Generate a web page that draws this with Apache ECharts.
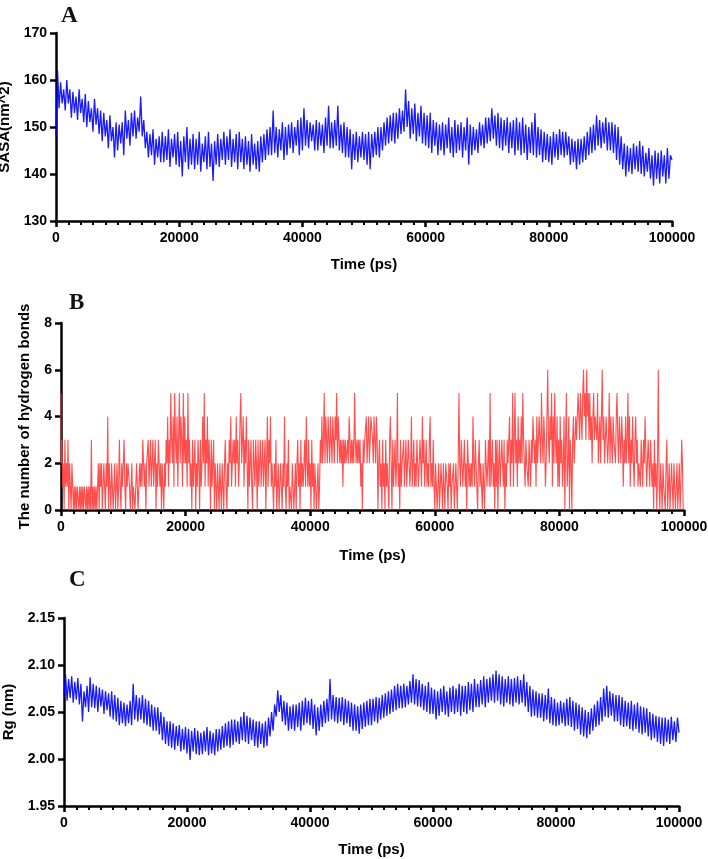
<!DOCTYPE html>
<html>
<head>
<meta charset="utf-8">
<style>
  html, body { margin: 0; padding: 0; background: #fff; }
  #chart { width: 708px; height: 859px; }
</style>
<script src="https://cdn.jsdelivr.net/npm/echarts@6/dist/echarts.min.js"></script>
</head>
<body>
<div id="chart"></div>
<script>
// sampling interval of each trace (ps)
const sasaStep = 250;
const hbondStep = 125;
const rgStep = 250;

// A: SASA (nm^2), one line = 2500 ps
const sasa = [
    148, 162, 154, 159.5, 155, 158, 153.5, 160, 155, 158,
    152, 157.5, 153, 156.5, 151.5, 158, 153, 156, 151, 157,
    150, 155.5, 151, 154, 149, 156, 150.5, 154, 148.5, 153.5,
    147, 153, 148, 151.5, 145.5, 152.5, 147, 150, 143.5, 151,
    145, 150.5, 146.5, 151, 144, 153.5, 147.5, 151.5, 146, 153,
    148, 153.5, 147.5, 152, 149, 156.5, 148, 151.5, 145.5, 149,
    143.5, 148.5, 144, 149.5, 142, 147.5, 143.5, 148, 142.5, 149,
    142.5, 148, 143, 149.5, 141.5, 147.5, 143.5, 148.5, 142, 149,
    141.5, 147, 139.5, 148, 142.5, 150, 141, 147.5, 142, 148.5,
    141, 147.5, 142, 149, 140.5, 146.5, 142.5, 148, 141, 149,
    141.5, 146.5, 138.5, 147, 142, 148.5, 141.5, 147.5, 143, 149,
    142, 148, 143, 149.5, 141.5, 147.5, 142.5, 148.5, 141, 149,
    142.5, 147.5, 141, 148, 142, 147, 140.5, 148.5, 142, 146.5,
    141, 147, 140.5, 148, 142.5, 148.5, 143, 149.5, 144, 150,
    144, 153.5, 144.5, 150, 143.5, 149.5, 145, 151, 143, 150,
    144, 150.5, 145.5, 151, 144.5, 150, 146, 151.5, 144, 152,
    145, 154, 146, 151.5, 145.5, 151, 147, 150.5, 145, 151.5,
    145, 151, 146, 150.5, 144.5, 152, 146, 154.5, 145.5, 151,
    145.5, 151.5, 146, 154.5, 145, 150.5, 144.5, 151, 143.5, 150,
    143.5, 149.5, 141, 148.5, 143, 149, 142.5, 148, 143.5, 149,
    143, 148.5, 142, 149, 141, 148.5, 143.5, 149, 144, 150,
    143.5, 150, 145, 151, 146, 152, 146.5, 152.5, 147, 153,
    146.5, 153, 147.5, 154, 148.5, 153.5, 149, 158, 150, 155.5,
    147.5, 154, 148.5, 155, 147, 153, 148, 154.5, 146.5, 153,
    146, 152.5, 145.5, 153, 144.5, 151.5, 146, 151, 144, 150.5,
    145, 151, 144, 150.5, 145.5, 152, 144.5, 150, 143.5, 151.5,
    144.5, 150.5, 145, 151, 143.5, 150, 145, 152, 142, 150.5,
    144, 150, 145, 149.5, 144.5, 151, 146, 150.5, 145.5, 152,
    146.5, 152, 147, 154, 147.5, 152.5, 146, 153, 145.5, 152,
    145, 151.5, 146, 152, 144.5, 151, 145.5, 151.5, 144, 152,
    145, 151, 144, 152, 144.5, 150.5, 143, 150, 144.5, 151,
    144, 153, 143.5, 150, 144, 149.5, 142.5, 149, 143, 148.5,
    142.5, 148, 142, 149, 143.5, 148.5, 143, 149.5, 144, 149,
    143.5, 149, 144, 148, 142, 147.5, 142.5, 147, 141, 147.5,
    142, 147.5, 142.5, 148, 143, 149, 144, 150, 144.5, 150.5,
    145, 152.5, 146, 151.5, 145.5, 151, 146.5, 152, 145, 151,
    145, 151, 144.5, 150.5, 143, 150, 142, 148, 141, 146.5,
    139.5, 146, 140.5, 145.5, 140, 146.5, 141, 146, 140.5, 147,
    140, 146, 139.5, 144.5, 140.5, 145.5, 139, 144, 137.5, 145,
    139, 144.5, 138, 145, 139.5, 144, 138, 145.5, 139, 144,
    143
];

// B: number of hydrogen bonds, one line = 5000 ps
const hbond = [
    5, 2, 3, 1, 2, 0, 3, 1, 2, 1, 3, 0, 2, 1, 0, 2, 1, 0, 1, 0, 1, 0, 1, 1, 0, 1, 0, 1, 0, 1, 0, 1, 1, 0, 1, 0, 1, 0, 1, 0,
    3, 0, 1, 0, 1, 0, 1, 0, 1, 2, 0, 2, 1, 2, 0, 1, 2, 1, 0, 2, 1, 4, 0, 2, 1, 0, 2, 1, 0, 1, 2, 0, 1, 2, 0, 1, 3, 1, 0, 2,
    1, 2, 3, 1, 0, 2, 1, 2, 2, 1, 0, 1, 2, 0, 1, 1, 0, 1, 2, 1, 0, 1, 2, 1, 2, 1, 3, 2, 1, 2, 0, 2, 2, 3, 1, 2, 3, 1, 2, 3,
    1, 2, 3, 0, 2, 1, 3, 2, 1, 2, 0, 2, 1, 0, 2, 1, 3, 2, 4, 1, 3, 2, 5, 3, 2, 4, 1, 5, 3, 2, 4, 1, 3, 5, 2, 4, 3, 1, 5, 2,
    4, 2, 3, 1, 5, 2, 3, 1, 2, 0, 3, 1, 2, 3, 0, 2, 1, 3, 2, 0, 3, 1, 2, 4, 2, 5, 1, 3, 2, 4, 1, 3, 2, 0, 3, 1, 2, 3, 0, 2,
    1, 0, 2, 1, 0, 2, 1, 0, 2, 1, 0, 2, 3, 1, 0, 2, 1, 3, 2, 4, 1, 2, 3, 2, 3, 1, 4, 2, 3, 1, 2, 4, 5, 2, 3, 4, 1, 3, 2, 4,
    2, 0, 3, 1, 2, 3, 1, 0, 3, 2, 1, 3, 2, 0, 3, 1, 2, 3, 1, 2, 3, 1, 2, 3, 0, 2, 4, 1, 3, 2, 4, 1, 2, 1, 0, 2, 1, 3, 0, 1,
    2, 0, 1, 2, 1, 0, 2, 1, 4, 1, 0, 2, 1, 3, 0, 1, 1, 0, 2, 1, 0, 1, 2, 0, 2, 3, 1, 2, 0, 3, 1, 2, 1, 2, 3, 1, 4, 2, 1, 3,
    1, 2, 0, 3, 1, 2, 0, 2, 2, 0, 1, 2, 0, 1, 3, 2, 4, 2, 3, 5, 2, 4, 3, 2, 4, 3, 2, 4, 3, 2, 4, 3, 2, 4, 3, 5, 2, 4, 3, 2,
    3, 2, 3, 1, 3, 2, 3, 2, 2, 3, 2, 4, 3, 2, 3, 2, 3, 2, 5, 3, 2, 3, 2, 3, 2, 3, 1, 2, 0, 3, 2, 3, 3, 4, 2, 3, 4, 2, 3, 4,
    4, 3, 2, 4, 3, 2, 4, 3, 0, 2, 3, 1, 2, 0, 3, 1, 2, 0, 3, 1, 2, 1, 0, 3, 4, 2, 0, 3, 1, 2, 3, 1, 2, 5, 1, 2, 0, 3, 1, 2,
    2, 3, 1, 2, 3, 1, 2, 3, 3, 1, 2, 4, 1, 2, 3, 1, 2, 1, 3, 2, 1, 2, 3, 2, 1, 4, 2, 3, 1, 2, 3, 1, 2, 1, 3, 4, 1, 2, 1, 3,
    1, 0, 2, 1, 0, 1, 2, 0, 0, 2, 1, 0, 2, 1, 0, 2, 2, 1, 0, 2, 1, 2, 0, 1, 1, 2, 0, 1, 2, 1, 0, 2, 5, 2, 1, 3, 2, 1, 2, 3,
    1, 2, 0, 3, 2, 1, 2, 1, 2, 1, 4, 2, 1, 3, 2, 1, 0, 2, 3, 1, 2, 1, 0, 2, 2, 0, 3, 2, 1, 2, 3, 1, 5, 1, 2, 3, 1, 2, 0, 3,
    1, 3, 0, 2, 3, 1, 2, 3, 2, 1, 3, 0, 2, 1, 3, 2, 2, 4, 1, 3, 2, 5, 1, 3, 5, 2, 3, 1, 4, 2, 3, 2, 4, 2, 5, 3, 2, 1, 3, 2,
    2, 1, 3, 2, 1, 3, 2, 4, 4, 2, 3, 1, 4, 2, 3, 4, 4, 2, 5, 3, 2, 4, 3, 1, 2, 4, 6, 3, 2, 4, 3, 5, 1, 4, 2, 5, 3, 2, 4, 1,
    3, 1, 4, 2, 3, 1, 2, 4, 0, 3, 5, 1, 2, 4, 0, 3, 2, 0, 3, 4, 2, 3, 4, 3, 3, 5, 4, 3, 5, 4, 3, 5, 6, 4, 5, 3, 6, 4, 5, 3,
    5, 3, 4, 2, 4, 5, 3, 4, 4, 3, 5, 2, 3, 4, 2, 4, 6, 3, 4, 2, 3, 4, 3, 2, 3, 5, 2, 4, 3, 2, 4, 3, 3, 2, 4, 5, 3, 2, 4, 3,
    2, 4, 3, 1, 3, 2, 4, 2, 3, 5, 2, 4, 1, 3, 2, 4, 2, 1, 3, 4, 2, 3, 1, 2, 2, 1, 3, 2, 1, 3, 2, 4, 4, 1, 2, 3, 2, 1, 3, 2,
    1, 2, 0, 3, 1, 2, 0, 2, 6, 1, 0, 2, 1, 0, 2, 1, 1, 0, 2, 3, 0, 1, 2, 0, 0, 2, 1, 0, 2, 1, 0, 1, 2, 0, 1, 2, 0, 1, 3, 2,
    0
];

// C: radius of gyration (nm), one line = 2500 ps
const rg = [
    2.068, 2.09, 2.062, 2.085, 2.065, 2.088, 2.06, 2.082, 2.063, 2.086,
    2.058, 2.08, 2.04, 2.072, 2.055, 2.078, 2.05, 2.087, 2.055, 2.08,
    2.054, 2.078, 2.05, 2.076, 2.056, 2.074, 2.048, 2.072, 2.052, 2.07,
    2.045, 2.072, 2.042, 2.068, 2.04, 2.065, 2.036, 2.062, 2.038, 2.06,
    2.035, 2.058, 2.038, 2.062, 2.036, 2.08, 2.042, 2.068, 2.04, 2.065,
    2.042, 2.068, 2.038, 2.064, 2.036, 2.062, 2.034, 2.058, 2.03, 2.055,
    2.03, 2.055, 2.026, 2.05, 2.02, 2.045, 2.016, 2.04, 2.014, 2.04,
    2.012, 2.038, 2.01, 2.035, 2.014, 2.036, 2.008, 2.032, 2.01, 2.034,
    2.006, 2.032, 1.999, 2.03, 2.008, 2.033, 2.005, 2.03, 2.004, 2.028,
    2.005, 2.03, 2.008, 2.034, 2.004, 2.03, 2.006, 2.028, 2.004, 2.032,
    2.008, 2.032, 2.01, 2.035, 2.012, 2.038, 2.014, 2.04, 2.012, 2.042,
    2.015, 2.042, 2.018, 2.04, 2.016, 2.045, 2.02, 2.05, 2.018, 2.046,
    2.016, 2.044, 2.02, 2.042, 2.014, 2.04, 2.012, 2.04, 2.016, 2.038,
    2.012, 2.04, 2.014, 2.044, 2.024, 2.05, 2.03, 2.058, 2.045, 2.073,
    2.05, 2.068, 2.04, 2.062, 2.036, 2.06, 2.03, 2.056, 2.032, 2.058,
    2.03, 2.058, 2.034, 2.06, 2.03, 2.062, 2.036, 2.065, 2.038, 2.062,
    2.036, 2.064, 2.032, 2.058, 2.025, 2.055, 2.03, 2.058, 2.034, 2.062,
    2.038, 2.064, 2.04, 2.085, 2.042, 2.068, 2.04, 2.066, 2.038, 2.065,
    2.04, 2.066, 2.036, 2.064, 2.038, 2.062, 2.034, 2.06, 2.03, 2.058,
    2.03, 2.056, 2.027, 2.058, 2.032, 2.06, 2.034, 2.062, 2.036, 2.064,
    2.036, 2.064, 2.04, 2.066, 2.038, 2.065, 2.042, 2.068, 2.044, 2.07,
    2.046, 2.072, 2.048, 2.074, 2.05, 2.078, 2.052, 2.08, 2.054, 2.078,
    2.054, 2.08, 2.055, 2.078, 2.058, 2.083, 2.06, 2.09, 2.058, 2.085,
    2.056, 2.084, 2.055, 2.08, 2.052, 2.078, 2.05, 2.082, 2.048, 2.076,
    2.048, 2.074, 2.042, 2.072, 2.046, 2.075, 2.05, 2.078, 2.047, 2.072,
    2.045, 2.076, 2.05, 2.078, 2.048, 2.075, 2.05, 2.08, 2.046, 2.078,
    2.05, 2.078, 2.048, 2.082, 2.052, 2.08, 2.05, 2.085, 2.055, 2.08,
    2.055, 2.084, 2.058, 2.088, 2.055, 2.085, 2.06, 2.087, 2.062, 2.09,
    2.06, 2.094, 2.062, 2.09, 2.058, 2.088, 2.056, 2.085, 2.06, 2.088,
    2.058, 2.085, 2.056, 2.086, 2.06, 2.088, 2.058, 2.084, 2.06, 2.09,
    2.056, 2.082, 2.05, 2.078, 2.045, 2.074, 2.046, 2.072, 2.044, 2.07,
    2.044, 2.07, 2.04, 2.068, 2.042, 2.075, 2.038, 2.066, 2.036, 2.064,
    2.035, 2.06, 2.036, 2.062, 2.038, 2.06, 2.035, 2.064, 2.036, 2.066,
    2.034, 2.062, 2.03, 2.06, 2.032, 2.058, 2.026, 2.055, 2.024, 2.052,
    2.022, 2.05, 2.026, 2.054, 2.03, 2.058, 2.034, 2.062, 2.036, 2.066,
    2.04, 2.075, 2.045, 2.078, 2.044, 2.072, 2.046, 2.07, 2.04, 2.068,
    2.04, 2.068, 2.036, 2.066, 2.034, 2.062, 2.035, 2.06, 2.032, 2.062,
    2.03, 2.058, 2.032, 2.06, 2.028, 2.056, 2.026, 2.055, 2.028, 2.054,
    2.024, 2.05, 2.02, 2.048, 2.022, 2.046, 2.018, 2.045, 2.016, 2.044,
    2.014, 2.044, 2.018, 2.042, 2.016, 2.045, 2.02, 2.04, 2.018, 2.044,
    2.028
];

const font = '"Liberation Sans", Arial, sans-serif';
const textStyle = { fontFamily: font, fontWeight: 'bold', color: '#000' };

function toPairs(values, step) {
    return values.map((v, i) => [i * step, v]);
}

// 时间轴（三个面板共用）
function timeAxis(gridIndex, nameGap) {
    return {
        type: 'value',
        gridIndex: gridIndex,
        min: 0,
        max: 100000,
        interval: 20000,
        name: 'Time (ps)',
        nameLocation: 'middle',
        nameGap: nameGap,
        nameTextStyle: Object.assign({ fontSize: 15 }, textStyle),
        axisLine: { show: true, onZero: false, lineStyle: { color: '#000', width: 2.5 } },
        axisTick: { show: true, length: 6, lineStyle: { color: '#000', width: 2.5 } },
        minorTick: { show: true, splitNumber: 10, length: 4, lineStyle: { color: '#000', width: 2 } },
        axisLabel: Object.assign({
            margin: 10,
            fontSize: 14,
            formatter: function(v) { return String(v); } // no thousands separator
        }, textStyle),
        splitLine: { show: false },
        minorSplitLine: { show: false }
    };
}

function valueAxis(gridIndex, cfg) {
    return {
        type: 'value',
        gridIndex: gridIndex,
        min: cfg.min,
        max: cfg.max,
        interval: cfg.interval,
        name: cfg.name,
        nameLocation: 'middle',
        nameGap: cfg.nameGap,
        nameTextStyle: Object.assign({ fontSize: 15 }, textStyle),
        axisLine: { show: true, lineStyle: { color: '#000', width: 2.5 } },
        axisTick: { show: true, length: 6, lineStyle: { color: '#000', width: 2.5 } },
        axisLabel: Object.assign({ margin: 9, fontSize: 14, formatter: cfg.formatter }, textStyle),
        splitLine: { show: false }
    };
}

const chart = echarts.init(document.getElementById('chart'));
const option = {
    animation: false,
    backgroundColor: '#fff',
    grid: [
        { left: 56, top: 33, width: 616, height: 188, outerBoundsMode: 'none' },
        { left: 61, top: 323, width: 623, height: 187, outerBoundsMode: 'none' },
        { left: 64, top: 618, width: 615, height: 188, outerBoundsMode: 'none' }
    ],
    xAxis: [timeAxis(0, 36), timeAxis(1, 38), timeAxis(2, 36)],
    yAxis: [
        valueAxis(0, { min: 130, max: 170, interval: 10, name: 'SASA(nm^2)', nameGap: 34 }),
        valueAxis(1, { min: 0, max: 8, interval: 2, name: 'The number of hydrogen bonds', nameGap: 29 }),
        valueAxis(2, {
            min: 1.95, max: 2.15, interval: 0.05, name: 'Rg (nm)', nameGap: 41,
            formatter: function(v) { return v.toFixed(2); }
        })
    ],
    graphic: [
        { type: 'text', left: 61, top: 5, style: { text: 'A', font: 'bold 23px "Liberation Serif", serif', fill: '#111' } },
        { type: 'text', left: 69, top: 292, style: { text: 'B', font: 'bold 23px "Liberation Serif", serif', fill: '#111' } },
        { type: 'text', left: 69, top: 569, style: { text: 'C', font: 'bold 23px "Liberation Serif", serif', fill: '#111' } }
    ],
    series: [
        {
            name: 'SASA',
            type: 'line',
            xAxisIndex: 0,
            yAxisIndex: 0,
            showSymbol: false,
            lineStyle: { color: '#0000ff', width: 1.3, opacity: 0.9 },
            data: toPairs(sasa, sasaStep)
        },
        {
            name: 'H-bonds',
            type: 'line',
            step: 'start',
            xAxisIndex: 1,
            yAxisIndex: 1,
            showSymbol: false,
            lineStyle: { color: '#ff3b3b', width: 1.1, opacity: 0.9 },
            data: toPairs(hbond, hbondStep)
        },
        {
            name: 'Rg',
            type: 'line',
            xAxisIndex: 2,
            yAxisIndex: 2,
            showSymbol: false,
            lineStyle: { color: '#0000ff', width: 1.3, opacity: 0.9 },
            data: toPairs(rg, rgStep)
        }
    ]
};
chart.setOption(option);
</script>
</body>
</html>
